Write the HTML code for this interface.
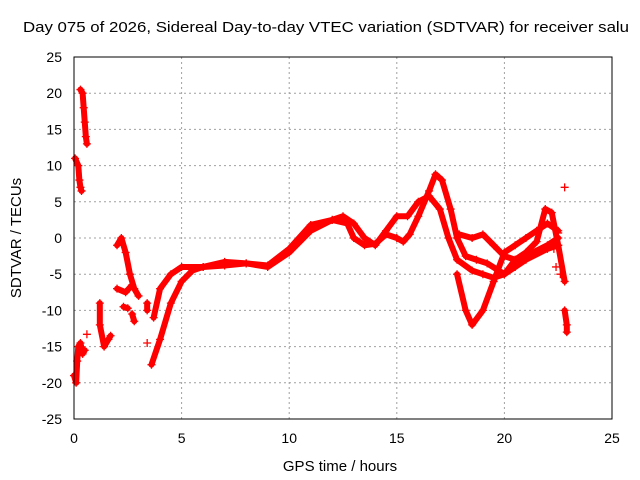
<!DOCTYPE html>
<html><head><meta charset="utf-8"><style>
body{margin:0;background:#fff;}
svg{display:block;font-family:"Liberation Sans",sans-serif;}
</style></head><body>
<svg id="chart" width="640" height="480">
<text x="326" y="32" text-anchor="middle" font-size="15" textLength="606" lengthAdjust="spacingAndGlyphs" fill="#000">Day 075 of 2026, Sidereal Day-to-day VTEC variation (SDTVAR) for receiver salu</text>
<text x="340" y="471" text-anchor="middle" font-size="15">GPS time / hours</text>
<text transform="translate(21,238) rotate(-90)" text-anchor="middle" font-size="15">SDTVAR / TECUs</text>
<g id="grid"></g><g id="ticks"></g><g id="marks"></g>
<rect x="74" y="57" width="538" height="362" fill="none" stroke="#000"/>
</svg>
<script>
const xTicks=[0,5,10,15,20,25];
const yTicks=[25,20,15,10,5,0,-5,-10,-15,-20,-25];
const trackUpper=[[3.7,-11],[4,-7],[4.5,-5],[5,-4],[6,-4],[7,-3.3],[8,-3.5],[9,-4],[10,-2],[11,1],[12,2.5],[12.7,2],[13,0],[13.5,-1],[14,-0.8],[14.5,0.5],[15,0],[15.3,-0.5],[15.6,0.5],[16,3],[16.5,6.5],[16.8,8.8],[17.1,8],[17.5,4],[17.8,0],[18.2,-2.5],[18.7,-3],[19.2,-3.5],[20,-5],[20.5,-4],[21,-3],[22,-1.5],[22.5,-1]];
const trackLower=[[3.6,-17.5],[4,-14],[4.5,-9],[5,-6],[5.5,-4.5],[6,-4],[7,-3.8],[8,-3.5],[9,-3.8],[10,-1.5],[11,1.8],[12,2.5],[12.5,3],[13,2],[13.5,0],[14,-1],[14.5,1],[15,3],[15.5,3],[16,5],[16.5,5.8],[17,4],[17.4,0],[17.8,-3],[18.5,-4.5],[19,-5],[19.5,-5.5],[20,-5],[20.5,-3],[21,-2.5],[22,-1],[22.5,0]];
const trackDip=[[17.8,-5],[18.2,-10],[18.5,-12],[19,-10],[19.5,-6],[20,-2],[20.5,-1],[21,0],[21.5,1],[22,2],[22.5,1]];
const trackFlat=[[17.9,0.5],[18.5,0],[19,0.5],[19.5,-1],[20,-2.5],[20.5,-3],[21,-2],[21.5,-0.5],[21.9,4],[22.2,3.5],[22.5,-1],[22.8,-6]];
const trackA=[[0,-19],[0.1,-20],[0.15,-17],[0.2,-15],[0.3,-14.5],[0.4,-16],[0.5,-15.5]];
const trackB=[[0.05,11],[0.2,10],[0.25,8],[0.3,7],[0.35,6.5]];
const trackC=[[0.3,20.5],[0.4,20],[0.45,18],[0.5,16],[0.55,14],[0.6,13]];
const trackD=[[1.2,-9],[1.2,-12],[1.4,-15],[1.6,-14],[1.7,-13.5]];
const trackE=[[2.0,-1],[2.2,0],[2.4,-2],[2.6,-5],[2.8,-7],[3.0,-8]];
const trackF=[[2.0,-7],[2.4,-7.5],[2.7,-6.5]];
const trackG=[[2.3,-9.5],[2.5,-9.7]];
const trackH=[[2.7,-10.5],[2.8,-11.5]];
const trackI=[[3.4,-9],[3.4,-10]];
const trackJ=[[22.8,-10],[22.9,-12],[22.9,-13]];
const singles=[[3.4,-14.5],[0.6,-13.3],[22.8,7],[22.3,-1.5],[22.4,-4],[22.5,0.7],[22.6,-5]];
const tracks=[trackUpper,trackLower,trackDip,trackFlat,trackA,trackB,trackC,trackD,trackE,trackF,trackG,trackH,trackI,trackJ];
const NS="http://www.w3.org/2000/svg";
const X=h=>74+h*538/25, Y=v=>238-v*362/50;
const grid=document.getElementById('grid'),ticks=document.getElementById('ticks'),marks=document.getElementById('marks');
function mk(t,a,p){const e=document.createElementNS(NS,t);for(const k in a)e.setAttribute(k,a[k]);p.appendChild(e);return e;}
xTicks.forEach(t=>{
 if(t>0&&t<25){const g=mk('line',{x1:X(t),x2:X(t),y1:57,y2:419,stroke:'#a0a0a0','stroke-dasharray':'2,3'},grid);
 
 }
 const l=mk('text',{x:X(t),y:443,'text-anchor':'middle','font-size':14},ticks);l.textContent=t;
 
 
});
yTicks.forEach(t=>{
 if(t>-25&&t<25){const g=mk('line',{x1:74,x2:612,y1:Y(t),y2:Y(t),stroke:'#a0a0a0','stroke-dasharray':'2,3'},grid);
 
 }
 const l=mk('text',{x:62,y:Y(t)+5,'text-anchor':'end','font-size':14},ticks);l.textContent=t;
 
 
});
function plus(h,v){const p=mk('path',{d:`M${X(h)-4},${Y(v)}h8M${X(h)},${Y(v)-4}v8`,stroke:'#f00','stroke-width':1.3},marks);
 
 }
tracks.forEach(tr=>{
 const pl=mk('polyline',{points:tr.map(p=>X(p[0])+','+Y(p[1])).join(' '),fill:'none',stroke:'#f00','stroke-width':6,'stroke-linejoin':'round','stroke-linecap':'round'},marks);
 
 
 tr.forEach(p=>plus(p[0],p[1]));
});
singles.forEach(p=>plus(p[0],p[1]));
</script>
</body></html>
